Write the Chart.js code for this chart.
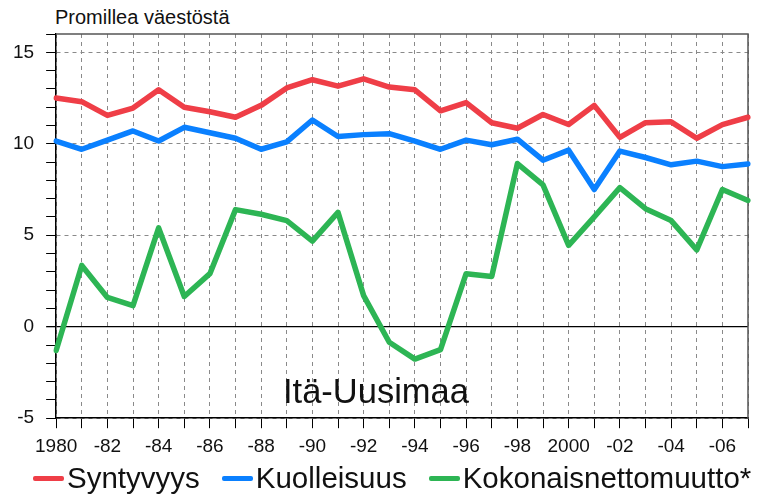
<!DOCTYPE html>
<html>
<head>
<meta charset="utf-8">
<script src="https://cdn.jsdelivr.net/npm/chart.js@4"></script>
<style>
  html, body { margin: 0; padding: 0; background: #fff; }
  body { width: 766px; height: 495px; overflow: hidden; position: relative; font-family: "Liberation Sans", Arial, sans-serif; }
  #title { position: absolute; left: 55px; top: 7px; font-size: 20px; line-height: 20px; color: #111; }
  #wrap { position: absolute; left: 0; top: 0; width: 766px; height: 465px; }
  #legend { position: absolute; left: 33px; top: 463px; display: flex; align-items: center; font-size: 29.5px; line-height: 30px; color: #111; white-space: nowrap; }
  #legend .item { display: flex; align-items: center; margin-right: 22px; }
  #legend .line { width: 31px; height: 5px; border-radius: 2px; margin-right: 3px; }
</style>
</head>
<body>
<div id="title">Promillea väestöstä</div>
<div id="wrap"><canvas id="chart"></canvas></div>
<div id="legend"></div>
<script>

const years = [1980, 1981, 1982, 1983, 1984, 1985, 1986, 1987, 1988, 1989,
	1990, 1991, 1992, 1993, 1994, 1995, 1996, 1997, 1998, 1999,
	2000, 2001, 2002, 2003, 2004, 2005, 2006, 2007]
const xTickLabels = ['1980', '', '-82', '', '-84', '', '-86', '', '-88', '',
	'-90', '', '-92', '', '-94', '', '-96', '', '-98', '',
	'2000', '', '-02', '', '-04', '', '-06', '']

// promillea vaestosta
const syntyvyys = [12.5, 12.3, 11.55, 11.95, 12.95, 12.0, 11.75, 11.45, 12.1, 13.05,
	13.5, 13.15, 13.55, 13.1, 12.95, 11.8, 12.25, 11.15, 10.85, 11.6,
	11.05, 12.1, 10.35, 11.15, 11.2, 10.3, 11.05, 11.45]
const kuolleisuus = [10.15, 9.7, 10.2, 10.7, 10.15, 10.9, 10.6, 10.3, 9.7, 10.1,
	11.3, 10.4, 10.5, 10.55, 10.15, 9.7, 10.2, 9.95, 10.25, 9.1,
	9.65, 7.5, 9.6, 9.25, 8.85, 9.05, 8.75, 8.9]
const nettomuutto = [-1.3, 3.35, 1.6, 1.15, 5.4, 1.65, 2.9, 6.4, 6.15, 5.8,
	4.68, 6.25, 1.7, -0.85, -1.77, -1.25, 2.9, 2.75, 8.92, 7.75,
	4.45, 6.0, 7.6, 6.45, 5.8, 4.2, 7.5, 6.9]
const yTickValues = [-5, 0, 5, 10, 15]

const seriesNames = ['Syntyvyys', 'Kuolleisuus', 'Kokonaisnettomuutto*']
const seriesColors = ['#ef3e47', '#0a80ff', '#2db554']
const areaName = 'Itä-Uusimaa'

const frameAndLabel = {
	id: 'frameAndLabel',
	beforeDatasetsDraw(chart) {
		const { ctx, chartArea } = chart
		ctx.save()
		ctx.strokeStyle = '#555'
		ctx.lineWidth = 1.5
		ctx.beginPath()
		ctx.moveTo(chartArea.left, chartArea.top)
		ctx.lineTo(chartArea.right, chartArea.top)
		ctx.lineTo(chartArea.right, chartArea.bottom)
		ctx.stroke()
		ctx.fillStyle = '#111'
		ctx.font = '34.5px "Liberation Sans", Arial, sans-serif'
		ctx.textBaseline = 'alphabetic'
		ctx.fillText(areaName, 283, 403)
		ctx.restore()
	}
}

const datasets = [syntyvyys, kuolleisuus, nettomuutto].map((d, i) => ({
	label: seriesNames[i],
	data: d,
	borderColor: seriesColors[i],
	backgroundColor: seriesColors[i],
	borderWidth: 5.5,
	pointRadius: 0,
	tension: 0,
	borderJoinStyle: 'round',
	borderCapStyle: 'round'
}))

const chart = new Chart(document.getElementById('chart').getContext('2d'), {
	type: 'line',
	data: { labels: years, datasets: datasets },
	options: {
		responsive: true,
		maintainAspectRatio: false,
		animation: false,
		layout: { padding: { top: 34, right: 18, left: 1, bottom: 0 } },
		plugins: {
			legend: { display: false },
			tooltip: { enabled: false }
		},
		scales: {
			x: {
				type: 'category',
				grid: {
					color: '#8a8a8a',
					lineWidth: 1,
					tickColor: '#000',
					tickLength: 10
				},
				border: { color: '#000', width: 1.5, dash: [4, 4] },
				ticks: {
					autoSkip: false,
					maxRotation: 0,
					padding: 7,
					color: '#111',
					font: { family: '"Liberation Sans", Arial, sans-serif', size: 19 },
					callback: (v, i) => xTickLabels[i]
				}
			},
			y: {
				min: -5,
				max: 16,
				grid: {
					color: c => c.tick.value === 0 ? '#000' : (c.tick.value % 5 === 0 ? '#8a8a8a' : 'rgba(0,0,0,0)'),
					lineWidth: c => c.tick.value === 0 ? 1.3 : 1,
					tickColor: '#000',
					tickLength: 10
				},
				border: {
					color: '#000',
					width: 1.5,
					dash: c => (c.tick && c.tick.value === 0) ? [] : [4, 4]
				},
				ticks: {
					stepSize: 1,
					autoSkip: false,
					maxTicksLimit: 40,
					padding: 12,
					color: '#111',
					font: { family: '"Liberation Sans", Arial, sans-serif', size: 19 },
					callback: v => yTickValues.includes(v) ? String(v) : ''
				}
			}
		}
	},
	plugins: [frameAndLabel]
})

const legend = document.getElementById('legend')
chart.data.datasets.forEach(ds => {
	const item = document.createElement('div')
	item.className = 'item'
	const line = document.createElement('span')
	line.className = 'line'
	line.style.background = ds.borderColor
	const text = document.createElement('span')
	text.textContent = ds.label
	item.appendChild(line)
	item.appendChild(text)
	legend.appendChild(item)
})
</script>
</body>
</html>
